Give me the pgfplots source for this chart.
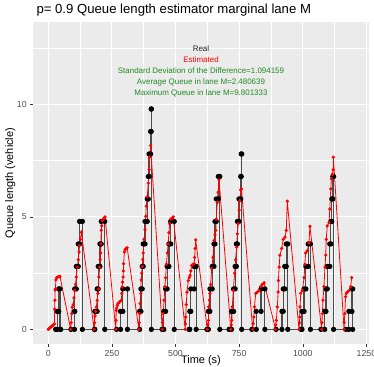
\documentclass[border=0pt]{standalone}
\usepackage{fontspec}
\setmainfont{Liberation Sans}
\usepackage{pgfplots}
\pgfplotsset{compat=1.18}
\definecolor{panel}{HTML}{EBEBEB}
\definecolor{grey30}{HTML}{4D4D4D}
\definecolor{grey20}{HTML}{333333}
\definecolor{fgreen}{HTML}{228B22}
\begin{document}
\begin{tikzpicture}
\path[use as bounding box] (-33bp,-23bp) rectangle (341bp,344bp);
\begin{axis}[
 at={(0,0)}, anchor=south west,
 scale only axis, width=336bp, height=322bp,
 xmin=-60, xmax=1260, ymin=-0.65, ymax=13.67,
 axis background/.style={fill=panel},
 axis line style={draw=none},
 xtick={0,250,...,1250}, ytick={0,5,10},
 minor xtick={125,375,...,1125}, minor ytick={2.5,7.5,12.5},
 grid=both,
 major grid style={white, line width=1.07bp},
 minor grid style={white, line width=0.53bp},
 tick align=outside, major tick length=2.75bp, minor tick length=0pt,
 tick style={grey20, line width=0.53bp},
 xtick pos=left, ytick pos=left,
 ticklabel style={font=\fontsize{8.8}{10}\selectfont, text=grey30},
 /pgf/number format/assume math mode=true,
 /pgf/number format/1000 sep={},
 clip=true,
]
\addplot[black!70, line width=1.2bp, mark=*, mark size=2bp, mark options={fill=black, draw=black}] coordinates {
(29,0)(35,0)(35,0.8)(41,0.8)(41,1.8)(46,1.8)(46,0)(49,0)
(89,0)(103,0)(103,0.8)(104,0.8)(104,1.8)(110,1.8)(110,2.8)(118,2.8)(118,3.8)(123,3.8)(123,4.8)(134,4.8)(134,0)
(181,0)(183,0)(183,0.8)(192,0.8)(192,1.8)(196,1.8)(196,2.8)(203,2.8)(203,3.8)(208,3.8)(208,4.8)(222,4.8)(222,0)
(268,0)(284,0)(284,0.8)(293,0.8)(293,1.8)(311,1.8)(311,0)
(359,0)(359,0.8)(364,0.8)(364,1.8)(369,1.8)(369,2.8)(373,2.8)(373,3.8)(380,3.8)(380,4.8)(389,4.8)(389,5.8)(393,5.8)(393,6.8)(396,6.8)(396,7.8)(402,7.8)(402,8.8)(404.5,8.8)(404.5,9.8)(405,9.8)(405,0)
(447,0)(454,0)(454,0.8)(461,0.8)(461,1.8)(467,1.8)(467,2.8)(474,2.8)(474,3.8)(481,3.8)(481,4.8)(495,4.8)(495,0)
(553,0)(556,0)(556,0.8)(560,0.8)(560,1.8)(573,1.8)(573,2.8)(581,2.8)(581,0)
(623,0)(629,0)(629,0.8)(635,0.8)(635,1.8)(644,1.8)(644,2.8)(651,2.8)(651,3.8)(655,3.8)(655,4.8)(660,4.8)(660,5.8)(668,5.8)(668,6.8)(674,6.8)(674,0)
(710,0)(720,0)(720,0.8)(728,0.8)(728,1.8)(734,1.8)(734,2.8)(739,2.8)(739,3.8)(743,3.8)(743,4.8)(749,4.8)(749,5.8)(756,5.8)(756,6.8)(758,6.8)(758,7.8)(760,7.8)(760,0)
(800,0)(817,0)(817,0.8)(836,0.8)(836,1.8)(851,1.8)(851,0)
(895,0)(918,0)(918,0.8)(923,0.8)(923,1.8)(929,1.8)(929,2.8)(935,2.8)(935,3.8)(941,3.8)(941,0)
(993,0)(997,0)(997,0.8)(1005,0.8)(1005,1.8)(1012,1.8)(1012,2.8)(1021,2.8)(1021,3.8)(1030,3.8)(1030,0)
(1071,0)(1086,0)(1086,0.8)(1091,0.8)(1091,1.8)(1096,1.8)(1096,2.8)(1106,2.8)(1106,3.8)(1110,3.8)(1110,4.8)(1114,4.8)(1114,5.8)(1118,5.8)(1118,6.8)(1121,6.8)(1121,0)
(1169,0)(1181,0)(1181,0.8)(1193,0.8)(1193,1.8)(1196,1.8)(1196,0)
};
\addplot[red, line width=0.8bp, mark=*, mark size=1.2bp, mark options={fill=red, draw=red}] coordinates {
(0,0)(3,0.03)(6,0.06)(9,0.09)(12,0.12)(15,0.15)(18,0.18)(21,0.21)(24,0.24)(25,0.9)(26,1.3)(27,1.75)(28,1.8)(30,2.2)(33,2.3)(38,2.33)(43,2.35)(46,2.36)
(88,0)(90,0.3)(92,0.7)(94,0.99)(98,1.1)(101,1.4)(104,1.73)(107,2.0)(110,2.33)(114,2.77)(118,3.1)(121,3.44)(123,3.73)(126,4.0)(130,4.32)
(180,0)(182,0.3)(184,0.6)(186,0.8)(189,1.0)(192,1.29)(195,1.6)(197,1.8)(199,2.33)(202,2.77)(204,3.1)(206,3.4)(207,3.8)(208,4.4)(210,4.6)(212,4.84)(216,4.9)(219,4.95)(223,5.0)
(265,0)(266,0.4)(267,0.84)(269,0.95)(271,1.07)(274,1.15)(278,1.2)(283,1.25)(287,1.29)(289,1.6)(290,1.88)(292,2.1)(294,2.33)(295,2.6)(296,2.92)(299,3.44)(302,3.55)(306,3.6)(310,3.63)
(356,0)(357,0.3)(359,0.7)(361,1.15)(363,1.6)(365,2.2)(367,2.5)(369,2.8)(371,3.1)(373,3.4)(376,4.0)(380,4.44)(383,5.03)(385,5.48)(389,5.9)(393,6.5)(396,7.1)(398,7.66)(402,8.18)
(448,0)(449,0.3)(452,0.7)(455,1.3)(458,1.9)(461,2.3)(464,2.9)(468,3.4)(471,3.8)(474,4.3)(477,4.7)(481,4.9)(487,4.95)(491,5.0)
(538,0)(539,0.25)(540,0.55)(542,1.1)(545,1.66)(550,2.17)(554,2.3)(557,2.4)(560,2.6)(563,2.84)(567,2.88)(573,2.92)(575,3.2)(577,3.6)(579,3.98)
(625,0)(627,0.2)(629,0.4)(630,1.0)(633,1.3)(635,1.6)(638,2.0)(642,2.7)(647,3.2)(651,3.95)(655,4.2)(658,4.4)(660,4.9)(664,5.65)(667,6.1)(671,6.65)
(717,0)(719,0.2)(721,0.4)(723,1.0)(727,1.73)(732,2.5)(736,3.1)(740,3.65)(743,4.25)(746,4.7)(750,5.3)(752,5.73)(756,6.2)(759,6.25)
(803,0)(805,0.25)(808,0.55)(810,1.0)(815,1.6)(821,1.66)(828,1.73)(835,1.9)(841,2.0)(848,2.07)
(893,0)(894,0.2)(896,0.4)(900,1.0)(903,1.66)(904,2.17)(907,2.77)(910,3.3)(917,3.6)(923,4.0)(930,4.1)(935,4.4)(939,5.7)
(985,0)(987,0.3)(988,0.55)(989,1.0)(992,1.6)(998,1.73)(1005,2.3)(1008,2.9)(1011,3.4)(1018,3.5)(1024,3.85)(1028,4.58)
(1074,0)(1075,0.3)(1077,0.7)(1079,1.3)(1083,1.9)(1087,2.77)(1090,3.3)(1092,4.0)(1096,4.6)(1103,4.75)(1106,5.35)(1110,6.25)(1112,6.7)(1116,6.9)(1119,7.1)(1120,7.66)
(1162,0)(1163,0.3)(1165,0.7)(1168,1.45)(1171,1.6)(1175,1.66)(1182,1.73)(1188,1.9)(1192,2.3)
};
\node[font=\fontsize{8}{9}\selectfont, text=black!85] at (axis cs:600,12.5) {Real};
\node[font=\fontsize{8}{9}\selectfont, text=red] at (axis cs:600,12.0) {Estimated};
\node[font=\fontsize{8}{9}\selectfont, text=fgreen] at (axis cs:600,11.5) {Standard Deviation of the Difference=1.094159};
\node[font=\fontsize{8}{9}\selectfont, text=fgreen] at (axis cs:600,11.0) {Average Queue in lane M=2.480639};
\node[font=\fontsize{8}{9}\selectfont, text=fgreen] at (axis cs:600,10.5) {Maximum Queue in lane M=9.801333};
\end{axis}
\node[anchor=base west, font=\fontsize{13.2}{15}\selectfont] at (0bp,330bp) {p= 0.9 Queue length estimator marginal lane M};
\node[anchor=base, font=\fontsize{11}{13}\selectfont] at (168bp,-19bp) {Time (s)};
\node[anchor=base, rotate=90, font=\fontsize{11}{13}\selectfont] at (-20bp,161bp) {Queue length (vehicle)};
\end{tikzpicture}
\end{document}
